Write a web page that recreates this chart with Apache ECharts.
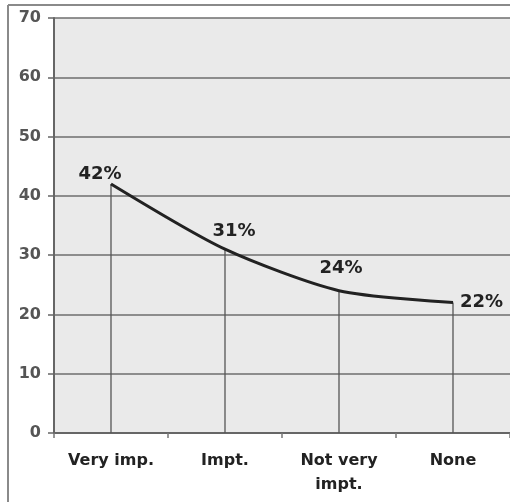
<!DOCTYPE html>
<html>
<head>
<meta charset="utf-8">
<script src="https://cdn.jsdelivr.net/npm/echarts@6/dist/echarts.min.js"></script>
<style>
  html, body { margin: 0; padding: 0; background: #fff; }
  #chart { width: 510px; height: 502px; }
</style>
</head>
<body>
<div id="chart"></div>
<script>
// Importance ratings and share of responses (%)
const categories = ['Very imp.', 'Impt.', 'Not very\nimpt.', 'None'];
const shares = [42, 31, 24, 22];
const yTicks = { min: 0, max: 70, interval: 10 };

// Where each percentage label sits relative to its point
const labelPlacement = [
  { position: 'top', offset: [-11, 4] },
  { position: 'top', offset: [9, -4] },
  { position: 'top', offset: [2, -8] },
  { position: 'right', offset: [2, 0] }
];

const FONT = 'DejaVu Sans, Verdana, sans-serif';

const chart = echarts.init(document.getElementById('chart'));

const lineData = shares.map((v, i) => ({
  value: v,
  label: Object.assign({}, labelPlacement[i])
}));

chart.setOption({
  animation: false,
  backgroundColor: '#ffffff',
  textStyle: { fontFamily: FONT },
  graphic: [
    { type: 'line', shape: { x1: 8, y1: 5, x2: 510, y2: 5 }, style: { stroke: '#8a8a8a', lineWidth: 2 } },
    { type: 'line', shape: { x1: 8, y1: 5, x2: 8, y2: 502 }, style: { stroke: '#8a8a8a', lineWidth: 2 } }
  ],
  grid: {
    left: 54, top: 18, width: 458, height: 415,
    show: true, backgroundColor: '#eaeaea', borderWidth: 0
  },
  xAxis: {
    type: 'category',
    data: categories,
    boundaryGap: true,
    axisLine: { lineStyle: { color: '#666', width: 2 } },
    axisTick: { show: true, length: 5, lineStyle: { color: '#777', width: 1.5 } },
    axisLabel: {
      color: '#222', fontFamily: FONT, fontWeight: 'bold', fontSize: 16,
      margin: 16, lineHeight: 24, interval: 0
    },
    splitLine: { show: false }
  },
  yAxis: {
    type: 'value',
    min: yTicks.min, max: yTicks.max, interval: yTicks.interval,
    axisLine: { show: true, lineStyle: { color: '#666', width: 2 } },
    axisTick: { show: true, length: 6, lineStyle: { color: '#666', width: 1.5 } },
    axisLabel: { color: '#555', fontFamily: FONT, fontWeight: 'bold', fontSize: 16, margin: 13 },
    splitLine: { show: true, lineStyle: { color: '#6e6e6e', width: 1.6 } }
  },
  series: [
    {
      // drop lines from each point down to the axis
      type: 'bar',
      data: shares,
      barWidth: 1.3,
      itemStyle: { color: '#555' },
      silent: true,
      z: 2
    },
    {
      type: 'line',
      data: lineData,
      smooth: 0.25,
      showSymbol: true,
      symbol: 'circle',
      symbolSize: 0.1,
      itemStyle: { color: '#222' },
      lineStyle: { color: '#222', width: 3 },
      label: {
        show: true,
        formatter: p => p.value + '%',
        color: '#222',
        fontFamily: FONT,
        fontWeight: 'bold',
        fontSize: 18
      },
      z: 3
    }
  ]
});
</script>
</body>
</html>
